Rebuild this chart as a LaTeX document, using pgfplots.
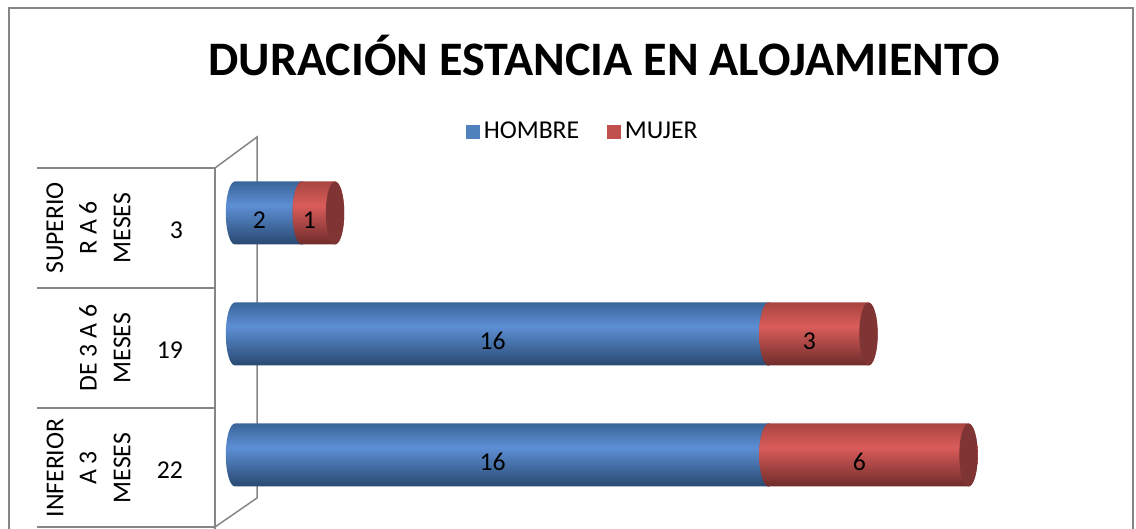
\documentclass[border=0pt]{standalone}
\usepackage{pgfplots}
\pgfplotsset{compat=1.18}
\usepackage{pgfplotstable}
\usepackage{fontspec}
\setmainfont{Carlito}

\definecolor{hblue}{RGB}{79,129,189}
\definecolor{mred}{RGB}{192,80,77}
\definecolor{frameGray}{RGB}{134,134,134}
\definecolor{bTop}{RGB}{58,101,153}
\definecolor{bMid}{RGB}{93,143,213}
\definecolor{bBot}{RGB}{40,72,112}
\definecolor{bCap}{RGB}{50,86,132}
\definecolor{rTop}{RGB}{168,68,64}
\definecolor{rMid}{RGB}{218,92,90}
\definecolor{rBot}{RGB}{110,44,43}
\definecolor{rCap}{RGB}{127,53,52}

\pgfdeclareverticalshading{cylblue}{100bp}{color(0bp)=(bBot); color(25bp)=(bBot); color(56bp)=(bMid); color(75bp)=(bTop); color(100bp)=(bTop)}
\pgfdeclareverticalshading{cylred}{100bp}{color(0bp)=(rBot); color(25bp)=(rBot); color(56bp)=(rMid); color(75bp)=(rTop); color(100bp)=(rTop)}

\newcommand{\bodyfont}{\fontsize{12.85}{15.4}\selectfont}

% cat: 0 = inferior a 3 meses, 1 = de 3 a 6 meses, 2 = superior a 6 meses
\pgfplotstableread{
cat hombre mujer
0   16     6
1   16     3
2   2      1
}\durdata

% one cylinder segment per data point, drawn back from the stacked end
\pgfplotsset{
  cyl/.style n args={3}{
    draw=none, fill=none,
    scatter, mark=*, mark size=0pt,
    scatter/use mapped color={draw=none,fill=none},
    visualization depends on={\thisrow{#3} \as \seg},
    scatter/@pre marker code/.append code={%
      \pgfmathsetmacro{\seglen}{\seg*16.67}%
      \pgfmathtruncatemacro{\segval}{\seg}%
      \shade[shading=#1] (-\seglen pt,15.75pt) -- (0pt,15.75pt)
        arc[start angle=90,end angle=-90,x radius=4.6pt,y radius=15.75pt]
        -- (-\seglen pt,-15.75pt)
        arc[start angle=270,end angle=90,x radius=4.6pt,y radius=15.75pt] -- cycle;
      \fill[#2] (0pt,0pt) ellipse[x radius=4.6pt,y radius=15.75pt];
      \node[font=\bodyfont, text=black] at (-\seglen pt/2-4.5pt,-3.5pt) {\segval};
    },
  },
}

\begin{document}
\begin{tikzpicture}
\useasboundingbox (0,0) rectangle (568pt,264.5pt);
\clip (0,0) rectangle (568pt,264.5pt);

% outer frame
\draw[frameGray, line width=1pt] (4.5pt,-5pt) -- (4.5pt,260.5pt) -- (566.5pt,260.5pt) -- (566.5pt,-5pt);

% title
\node[font=\bfseries\fontsize{24.05}{28}\selectfont, anchor=base] at (302pt,226.5pt) {DURACIÓN ESTANCIA EN ALOJAMIENTO};

% category table and 3d wall
\begin{scope}[frameGray, line width=0.75pt]
  \foreach \yy in {180.5,120.5,60.5,1} \draw (18.5pt,\yy pt) -- (107.5pt,\yy pt);
  \draw (107.5pt,180.5pt) -- (107.5pt,-5pt);
  \draw (107.5pt,180.5pt) -- (128.5pt,196pt) -- (128.5pt,15.5pt) -- (107.5pt,1pt);
\end{scope}

\begin{scope}[every node/.style={font=\bodyfont, rotate=90, anchor=center}]
  \node at (27.5pt,150.5pt) {SUPERIO};
  \node at (44pt,150.5pt) {R A 6};
  \node at (61pt,150.5pt) {MESES};
  \node at (44pt,90.5pt) {DE 3 A 6};
  \node at (61pt,90.5pt) {MESES};
  \node at (27.5pt,30.5pt) {INFERIOR};
  \node at (44pt,30.5pt) {A 3};
  \node at (61pt,30.5pt) {MESES};
\end{scope}
\begin{scope}[every node/.style={font=\bodyfont, anchor=east}]
  \node at (95pt,149.5pt) {3};
  \node at (95pt,89.5pt) {19};
  \node at (95pt,29.5pt) {22};
\end{scope}

\begin{axis}[
    xbar stacked,
    reverse stacked plots=false,
    bar width=31.5pt,
    x=16.67pt, y=60.5pt,
    xmin=0, xmax=25, ymin=-0.5, ymax=2.5,
    anchor=south west, at={(117.5pt,6.75pt)},
    axis lines=none,
    clip=false,
    legend columns=2,
    legend style={at={(axis description cs:0.4185,1.057)}, anchor=center,
      draw=none, fill=none, font=\bodyfont,
      /tikz/every even column/.append style={column sep=12pt}},
  ]
  \addplot[cyl={cylblue}{bCap}{hombre},
    legend image code/.code={\fill[hblue] (0pt,-3.4pt) rectangle (6.8pt,3.4pt);}]
    table[x=hombre, y=cat] {\durdata};
  \addlegendentry{HOMBRE}
  \addplot[cyl={cylred}{rCap}{mujer},
    legend image code/.code={\fill[mred] (0pt,-3.4pt) rectangle (6.8pt,3.4pt);}]
    table[x=mujer, y=cat] {\durdata};
  \addlegendentry{MUJER}
\end{axis}
\end{tikzpicture}
\end{document}
